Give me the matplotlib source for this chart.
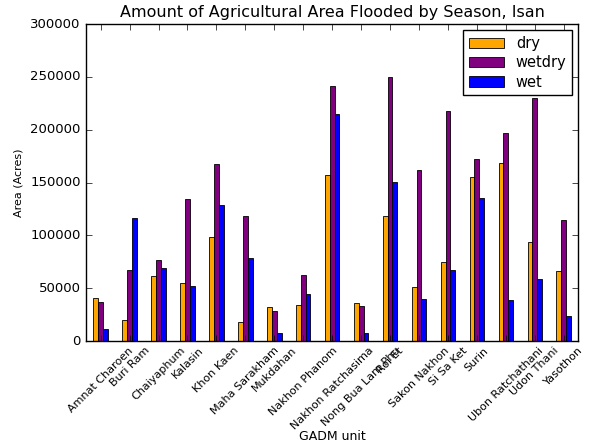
import matplotlib
matplotlib.use('Agg')
from matplotlib import pyplot as plt
import numpy as np

provinces = ['Amnat Charoen', 'Buri Ram', 'Chaiyaphum', 'Kalasin', 'Khon Kaen',
             'Maha Sarakham', 'Mukdahan', 'Nakhon Phanom', 'Nakhon Ratchasima',
             'Nong Bua Lam Phu', 'Roi Et', 'Sakon Nakhon', 'Si Sa Ket', 'Surin',
             'Ubon Ratchathani', 'Udon Thani', 'Yasothon']

dry = [41000, 20500, 61500, 55200, 98400, 18300, 31900, 34700, 157100,
       36000, 118600, 51100, 75000, 155500, 168700, 93400, 66200]
wetdry = [37200, 67200, 76600, 134100, 167500, 118300, 28400, 62500, 241300,
          33100, 250100, 161800, 217900, 171900, 197100, 229600, 114800]
wet = [12000, 116100, 69400, 52400, 128700, 78800, 8200, 44500, 214500,
       8200, 150800, 39700, 67800, 135300, 39100, 58700, 24000]

series = [('dry', dry, 'orange'), ('wetdry', wetdry, 'purple'), ('wet', wet, 'blue')]

plt.style.use('classic')
plt.rcParams['font.family'] = 'DejaVu Sans'

fig = plt.figure(figsize=(5.9, 4.46), dpi=100, facecolor='white')
ax = fig.add_axes([0.146, 0.235, 0.834, 0.711])

x = np.arange(len(provinces))
w = 0.5 / 3
for i, (name, vals, col) in enumerate(series):
    ax.bar(x + (i - 1) * w, vals, w, color=col, edgecolor='black',
           linewidth=0.6, label=name, align='center')

ax.set_xlim(-0.5, len(provinces) - 0.5)
ax.set_ylim(0, 300000)
ax.set_xticks(x)
ax.set_xticklabels(provinces, rotation=45, fontsize=8)
ax.tick_params(axis='y', labelsize=9.5)
ax.tick_params(axis='x', pad=3)
ax.set_xlabel('GADM unit', fontsize=9, va='center')
ax.xaxis.set_label_coords(0.5, -0.302)
ax.set_ylabel('Area (Acres)', fontsize=8)
ax.set_title('Amount of Agricultural Area Flooded by Season, Isan', fontsize=11.5)
ax.legend(loc='upper right', fontsize=10.5, handlelength=2.4,
          labelspacing=0.3, borderaxespad=0.4)

fig.savefig('out.png', dpi=100, facecolor='white')
